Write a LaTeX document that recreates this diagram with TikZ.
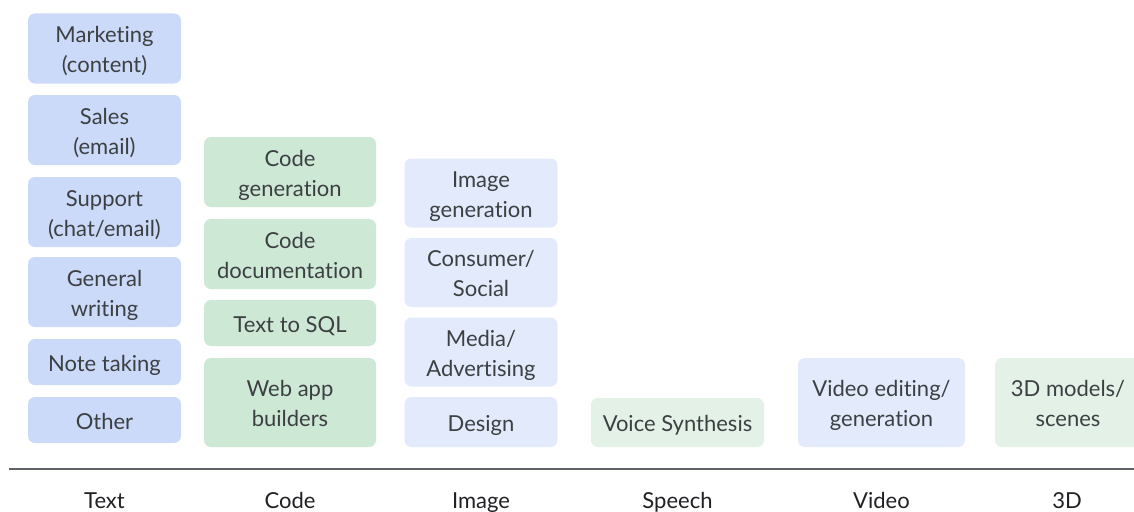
\documentclass[tikz,border=0pt]{standalone}
\usepackage{fontspec}
\setmainfont[Ligatures=NoCommon]{Lato}
\definecolor{ink}{HTML}{3C4043}
\definecolor{labelink}{HTML}{202124}
\definecolor{axisgray}{HTML}{5F6368}
\definecolor{textblue}{HTML}{CBDAF8}
\definecolor{codegreen}{HTML}{CDE8D5}
\definecolor{paleblue}{HTML}{E2EAFB}
\definecolor{palegreen}{HTML}{E3F1E6}
\begin{document}
\begin{tikzpicture}[x=1pt,y=-1pt,
  % fixed text height/depth so every label sits on the same optical centre
  box/.style={rounded corners=7pt, inner sep=0pt, align=center, text=ink,
    font=\fontsize{22}{30}\selectfont, text height=25pt, text depth=7pt},
  twoline/.style={text height=55pt},
  textcol/.style={box, fill=textblue, minimum width=153pt},
  codecol/.style={box, fill=codegreen, minimum width=172pt},
  imagecol/.style={box, fill=paleblue, minimum width=153pt},
  catlabel/.style={anchor=base, text=labelink, font=\fontsize{22}{26}\selectfont},
]
\useasboundingbox (0,0) rectangle (1134,511);
\fill[white] (0,0) rectangle (1134,511);

% Text
\node[textcol, twoline, minimum height=70pt] (mkt)  at (104.5,48.5)  {Marketing\\(content)};
\node[textcol, twoline, minimum height=70pt] (sales) at (104.5,130) {Sales\\(email)};
\node[textcol, twoline, minimum height=70pt] (supp) at (104.5,212) {Support\\(chat/email)};
\node[textcol, twoline, minimum height=70pt] (gen)  at (104.5,292) {General\\writing};
\node[textcol, minimum height=46pt] (note) at (104.5,362) {Note taking};
\node[textcol, minimum height=46pt] (oth)  at (104.5,420) {Other};

% Code
\node[codecol, twoline, minimum height=70pt] (cgen) at (290,172) {Code\\generation};
\node[codecol, twoline, minimum height=70pt] (cdoc) at (290,254) {Code\\documentation};
\node[codecol, minimum height=46pt] (sql)  at (290,323) {Text to SQL};
\node[codecol, twoline, minimum height=89pt] (web)  at (290,402.5) {Web app\\builders};

% Image
\node[imagecol, twoline, minimum height=69pt] (igen) at (481,193) {Image\\generation};
\node[imagecol, twoline, minimum height=69pt] (cons) at (481,272.5) {Consumer/\\Social};
\node[imagecol, twoline, minimum height=69pt] (media) at (481,352) {Media/\\Advertising};
\node[imagecol, minimum height=50pt] (des)  at (481,422) {Design};

% Speech, Video, 3D
\node[box, fill=palegreen, minimum width=173pt, minimum height=49pt] (voice) at (677.5,422.5) {Voice Synthesis};
\node[box, twoline, fill=paleblue, minimum width=167pt, minimum height=89pt] (vid) at (881.5,402.5) {Video editing/\\generation};
\node[box, twoline, fill=palegreen, minimum width=146pt, minimum height=89pt] (threed) at (1068,402.5) {3D models/\\scenes};

% Axis
\coordinate (axl) at (9,469);
\coordinate (axr) at (1134,469);
\draw[axisgray, line width=1.8pt] (axl) -- (axr);

% Categories
\node[catlabel] (lText)   at (104.5,508) {Text};
\node[catlabel] (lCode)   at (290,508)   {Code};
\node[catlabel] (lImage)  at (481,508)   {Image};
\node[catlabel] (lSpeech) at (677.5,508) {Speech};
\node[catlabel] (lVideo)  at (881.5,508) {Video};
\node[catlabel] (l3D)     at (1067,508)  {3D};
\end{tikzpicture}
\end{document}
